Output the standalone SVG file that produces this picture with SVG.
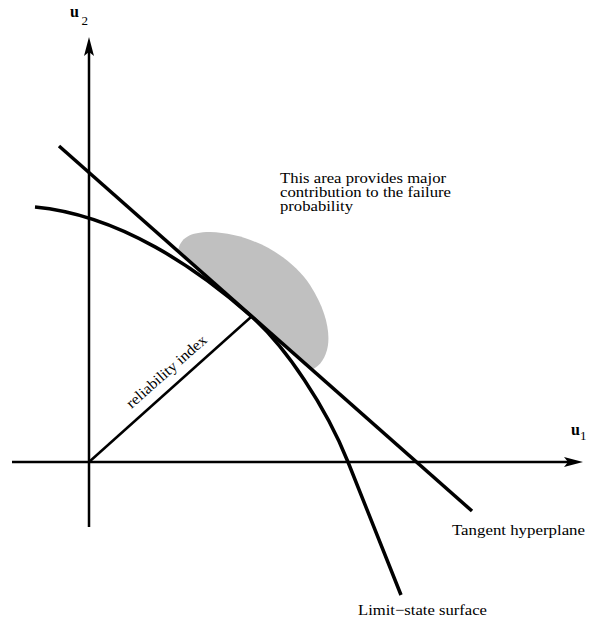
<svg xmlns="http://www.w3.org/2000/svg" width="599" height="622" viewBox="0 0 599 622">
<style>
.ln{fill:none;stroke:#000;stroke-linecap:butt;stroke-linejoin:round}
.ax{stroke-width:2.5}
.th{stroke-width:3.5}
.t{font-family:"Liberation Serif","Times New Roman",serif;font-size:15px;fill:#000}
.n{font-family:"Liberation Serif","Times New Roman",serif;font-size:14px;fill:#000}
.lab{font-family:"Liberation Serif","Times New Roman",serif;font-size:16px;font-weight:bold;fill:#000}
.sub{font-family:"Liberation Serif","Times New Roman",serif;font-size:13px;fill:#000}
</style>
<rect width="599" height="622" fill="#fff"/>
<g id="failure-region">
<path d="M178,251.2 C180,238 190,232 210,232 C250,233 290,255 310,285 C325,308 330,330 328,345 C326,358 320,366 312,369.7 Z" fill="#c0c0c0"/>
</g>
<g id="axes">
<line class="ln ax" x1="89" y1="527" x2="89" y2="52"/>
<polygon points="89,37 84,56 89,52 94,56" fill="#000"/>
<line class="ln ax" x1="12" y1="462" x2="568" y2="462"/>
<polygon points="583,462 564,457 568,462 564,467" fill="#000"/>
</g>
<g id="connectors">
<line id="reliability-line" class="ln" stroke-width="2.5" x1="89" y1="462" x2="251" y2="317"/>
<line id="tangent" class="ln th" x1="59" y1="146" x2="472" y2="511"/>
<path id="limit-state" class="ln th" d="M35,207 C120,215 198,269 251,316 C286,347 326,407 348,462 L401,595"/>
</g>
<g id="label-u2">
<text class="lab" x="70" y="17">u</text>
<text class="sub" x="81.5" y="25">2</text>
</g>
<g id="label-u1">
<text class="lab" x="571" y="435">u</text>
<text class="sub" x="580" y="440">1</text>
</g>
<g id="note">
<text class="n" x="280" y="182.5" textLength="166" lengthAdjust="spacingAndGlyphs">This area provides major</text>
<text class="n" x="280" y="196.5" textLength="171" lengthAdjust="spacingAndGlyphs">contribution to the failure</text>
<text class="n" x="280" y="210.5" textLength="73" lengthAdjust="spacingAndGlyphs">probability</text>
</g>
<g id="label-reliability">
<text class="t" transform="translate(131.5,409) rotate(-41.5)" textLength="102" lengthAdjust="spacingAndGlyphs">reliability index</text>
</g>
<g id="label-tangent">
<text class="t" x="452" y="535" textLength="133" lengthAdjust="spacingAndGlyphs">Tangent hyperplane</text>
</g>
<g id="label-limit">
<text class="t" x="358" y="615" textLength="129" lengthAdjust="spacingAndGlyphs">Limit−state surface</text>
</g>
</svg>
